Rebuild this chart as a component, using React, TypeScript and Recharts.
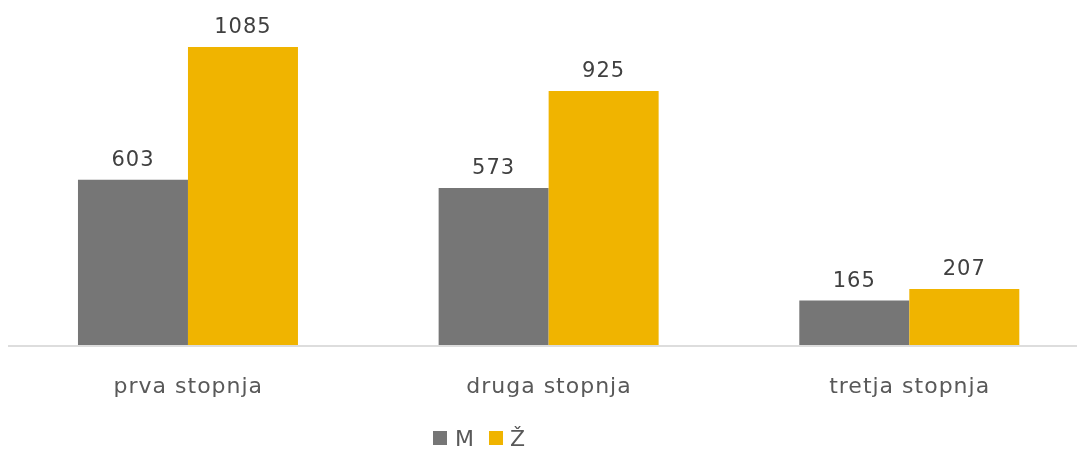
import React from "react";
import { BarChart, Bar, XAxis, YAxis, Legend, LabelList } from "recharts";

const categories = ["prva stopnja", "druga stopnja", "tretja stopnja"];
const valuesM = [603, 573, 165];
const valuesZ = [1085, 925, 207];
const seriesNames = ["M", "Ž"];
const colors = ["#767676", "#F0B400"];

const data = categories.map((c, i) => ({ name: c, M: valuesM[i], Z: valuesZ[i] }));

const FONT = "'DejaVu Sans', sans-serif";

const CategoryTick = (props: any) => {
  const { x, y, payload } = props;
  return (
    <text x={x} y={y} dy={47} textAnchor="middle" fill="#595959" fontSize={22} letterSpacing={1} fontFamily={FONT}>
      {payload.value}
    </text>
  );
};

const LegendContent = () => (
  <div style={{ display: "flex", alignItems: "center", fontFamily: FONT, fontSize: 22, color: "#595959", height: 24 }}>
    <span style={{ display: "inline-block", width: 14, height: 14, background: colors[0], marginRight: 8 }} />
    <span style={{ marginRight: 15 }}>{seriesNames[0]}</span>
    <span style={{ display: "inline-block", width: 14, height: 14, background: colors[1], marginRight: 7 }} />
    <span>{seriesNames[1]}</span>
  </div>
);

export default function App() {
  return (
    <div style={{ position: "fixed", top: 8, left: 8, width: 1082, height: 442 }}>
      <BarChart
        width={1082}
        height={442}
        data={data}
        margin={{ top: 7.3, right: 0, bottom: 44, left: 0 }}
        barCategoryGap="19.4%"
        barGap={0}
        style={{ overflow: "visible" }}
      >
        <XAxis
          dataKey="name"
          tickLine={false}
          tickSize={0}
          tickMargin={0}
          axisLine={{ stroke: "#dddddd", strokeWidth: 2 }}
          tick={<CategoryTick />}
          height={60}
          interval={0}
        />
        <YAxis hide domain={[0, 1200]} />
        <Legend
          verticalAlign="middle"
          align="center"
          content={<LegendContent />}
          wrapperStyle={{ top: 418, left: 425, width: 130, height: 24 }}
        />
        <Bar dataKey="M" name={seriesNames[0]} fill={colors[0]} isAnimationActive={false}>
          <LabelList dataKey="M" position="top" offset={14} fill="#404040" fontSize={21} letterSpacing={1} fontFamily={FONT} />
        </Bar>
        <Bar dataKey="Z" name={seriesNames[1]} fill={colors[1]} isAnimationActive={false}>
          <LabelList dataKey="Z" position="top" offset={14} fill="#404040" fontSize={21} letterSpacing={1} fontFamily={FONT} />
        </Bar>
      </BarChart>
    </div>
  );
}
